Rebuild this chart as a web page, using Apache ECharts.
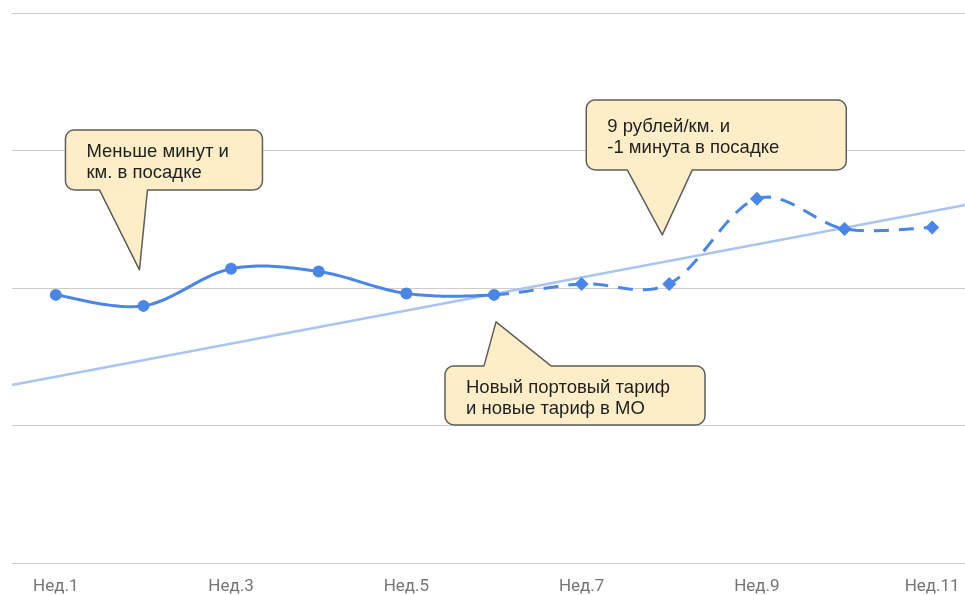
<!DOCTYPE html>
<html>
<head>
<meta charset="utf-8">
<script src="https://cdn.jsdelivr.net/npm/echarts@6/dist/echarts.min.js"></script>
<style>
  html, body { margin: 0; padding: 0; background: #ffffff; overflow: hidden; }
  #chart { width: 976px; height: 595px; }
</style>
</head>
<body>
<div id="chart"></div>
<script>
// ---- data ----
const weeks = ['Нед.1', 'Нед.2', 'Нед.3', 'Нед.4', 'Нед.5', 'Нед.6', 'Нед.7', 'Нед.8', 'Нед.9', 'Нед.10', 'Нед.11'];
const actualValues = [1.95, 1.87, 2.14, 2.12, 1.96, 1.95];          // Нед.1 – Нед.6 (solid)
const forecastValues = [2.03, 2.03, 2.65, 2.43, 2.44];               // Нед.7 – Нед.11 (dashed)
const trendStartEnd = [1.294, 2.618];                                // trend at left / right plot edges
const notes = [
  { text: 'Меньше минут и\nкм. в посадке', week: 1 },
  { text: '9 рублей/км. и\n-1 минута в посадке', week: 7 },
  { text: 'Новый портовый тариф\nи новые тариф в МО', week: 5 }
];

const allValues = actualValues.concat(forecastValues);
const nActual = actualValues.length;
const lineColor = '#4a86e8';

const actualPoints = actualValues.map((v, i) => [i, v]);
const forecastPoints = forecastValues.map((v, i) => [i + nActual, v]);

// Catmull-Rom curve through the pixel positions of the data points (segments from..to)
function sampleCurve(px, from, to) {
  const out = [];
  const n = px.length;
  for (let i = from; i < to; i++) {
    const p0 = px[Math.max(i - 1, 0)], p1 = px[i], p2 = px[i + 1], p3 = px[Math.min(i + 2, n - 1)];
    const c1 = [p1[0] + (p2[0] - p0[0]) / 6, p1[1] + (p2[1] - p0[1]) / 6];
    const c2 = [p2[0] - (p3[0] - p1[0]) / 6, p2[1] - (p3[1] - p1[1]) / 6];
    const steps = 24;
    for (let s = (i === from ? 0 : 1); s <= steps; s++) {
      const t = s / steps, u = 1 - t;
      out.push([
        u * u * u * p1[0] + 3 * u * u * t * c1[0] + 3 * u * t * t * c2[0] + t * t * t * p2[0],
        u * u * u * p1[1] + 3 * u * u * t * c1[1] + 3 * u * t * t * c2[1] + t * t * t * p2[1]
      ]);
    }
  }
  return out;
}

const chart = echarts.init(document.getElementById('chart'), null, { renderer: 'canvas' });

const option = {
  animation: false,
  backgroundColor: '#ffffff',
  grid: { left: 12, right: 0, top: 13, bottom: 32 },
  xAxis: [
    {
      type: 'category',
      data: weeks,
      boundaryGap: true,
      axisLine: { show: false },
      axisTick: { show: false },
      axisLabel: {
        interval: 1,
        margin: 15,
        color: '#757575',
        fontFamily: 'Roboto',
        fontSize: 17
      }
    },
    {
      type: 'value',
      min: -0.5,
      max: 10.5,
      show: false
    }
  ],
  yAxis: {
    type: 'value',
    min: 0,
    max: 4,
    interval: 1,
    axisLine: { show: false },
    axisTick: { show: false },
    axisLabel: { show: false },
    splitLine: { lineStyle: { color: '#cccccc', width: 1 } }
  },
  series: [
    {
      name: 'trend',
      type: 'line',
      xAxisIndex: 1,
      data: [[-0.5, trendStartEnd[0]], [10.5, trendStartEnd[1]]],
      symbol: 'none',
      lineStyle: { color: '#a9c4f2', width: 2.5 },
      z: 1
    },
    {
      name: 'curve',
      type: 'custom',
      data: allValues.map((v, i) => [i, v]),
      z: 2,
      renderItem: function (params, api) {
        if (params.dataIndexInside !== 0) return null;
        const px = allValues.map((v, i) => api.coord([i, v]));
        return {
          type: 'group',
          children: [
            {
              type: 'polyline',
              shape: { points: sampleCurve(px, 0, nActual - 1) },
              style: { stroke: lineColor, lineWidth: 3, fill: null, lineJoin: 'round', lineCap: 'round' }
            },
            {
              type: 'polyline',
              shape: { points: sampleCurve(px, nActual - 1, px.length - 1) },
              style: { stroke: lineColor, lineWidth: 3, fill: null, lineDash: [15, 10] }
            }
          ]
        };
      }
    },
    {
      name: 'actual',
      type: 'scatter',
      data: actualPoints,
      symbol: 'circle',
      symbolSize: 12,
      itemStyle: { color: lineColor, opacity: 1 },
      z: 3
    },
    {
      name: 'forecast',
      type: 'scatter',
      data: forecastPoints,
      symbol: 'diamond',
      symbolSize: 14,
      itemStyle: { color: lineColor, opacity: 1 },
      z: 3
    }
  ]
};
chart.setOption(option);

// ---- callouts, anchored to data points ----
// box offsets relative to the anchor point: [left, right, top, bottom], tail base [from, to], tip offset [dx, dy]
const calloutGeom = [
  { box: [-78, 119, -176, -116], base: [-44, 4], tip: [-4, -36], side: 'bottom' },
  { box: [-83, 177, -184, -114], base: [-42, 23], tip: [-7, -49], side: 'bottom' },
  { box: [-49, 211, 71, 130], base: [-10, 57], tip: [2, 27], side: 'top' }
];

function arcPts(cx, cy, r, a0, a1, out) {
  const steps = 6;
  for (let s = 0; s <= steps; s++) {
    const a = a0 + (a1 - a0) * s / steps;
    out.push([cx + r * Math.cos(a), cy + r * Math.sin(a)]);
  }
}

function calloutPoints(x0, y0, x1, y1, r, b0, b1, tx, ty, side) {
  const pts = [];
  const P = Math.PI;
  arcPts(x0 + r, y0 + r, r, P, 1.5 * P, pts);
  if (side === 'top') pts.push([b0, y0], [tx, ty], [b1, y0]);
  arcPts(x1 - r, y0 + r, r, 1.5 * P, 2 * P, pts);
  arcPts(x1 - r, y1 - r, r, 0, 0.5 * P, pts);
  if (side === 'bottom') pts.push([b1, y1], [tx, ty], [b0, y1]);
  arcPts(x0 + r, y1 - r, r, 0.5 * P, P, pts);
  return pts;
}

const graphics = [];
notes.forEach((n, k) => {
  const g = calloutGeom[k];
  const a = chart.convertToPixel({ xAxisIndex: 0, yAxisIndex: 0 }, [n.week, allValues[n.week]]);
  const ax = a[0], ay = a[1];
  const x0 = ax + g.box[0], x1 = ax + g.box[1], y0 = ay + g.box[2], y1 = ay + g.box[3];
  graphics.push({
    type: 'polygon',
    z: 100,
    shape: {
      points: calloutPoints(x0, y0, x1, y1, 9, ax + g.base[0], ax + g.base[1], ax + g.tip[0], ay + g.tip[1], g.side)
    },
    style: { fill: '#fdeec8', stroke: '#5e5e5e', lineWidth: 1.5, lineJoin: 'round' }
  });
  graphics.push({
    type: 'text',
    z: 101,
    style: {
      x: x0 + 21,
      y: (y0 + y1) / 2 + 3,
      text: n.text,
      fill: '#1f1f1f',
      font: '18.5px "Liberation Sans", Arial, sans-serif',
      lineHeight: 21,
      verticalAlign: 'middle',
      align: 'left'
    }
  });
});
chart.setOption({ graphic: graphics });
</script>
</body>
</html>
